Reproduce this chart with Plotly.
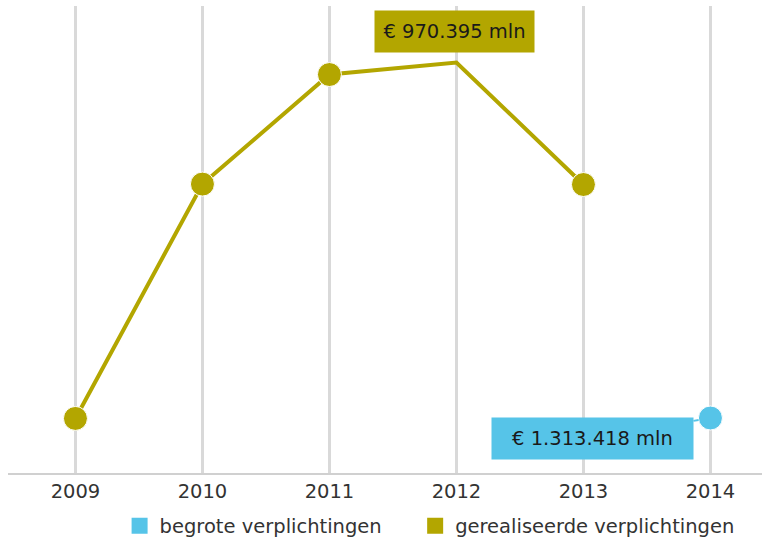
import plotly.graph_objects as go

# ---- data ----
years = ["2009", "2010", "2011", "2012", "2013", "2014"]
realised_years = ["2009", "2010", "2011", "2012", "2013"]
realised_values = [129000, 683000, 942000, 970395, 682000]
budget_years = ["2014"]
budget_values = [1313418]
realised_label = "€ 970.395 mln"
budget_label = "€ 1.313.418 mln"
realised_name = "gerealiseerde verplichtingen"
budget_name = "begrote verplichtingen"

# ---- style ----
OLIVE = "#b3a600"
BLUE = "#56c4e8"
FONT = "DejaVu Sans"
FS = 19.5

marker_sizes = [24, 24, 24, 0, 24]
marker_lw = [1, 1, 1, 0, 1]

fig = go.Figure()

fig.add_trace(go.Scatter(
    x=realised_years, y=realised_values, mode="lines+markers",
    line=dict(color=OLIVE, width=4),
    marker=dict(color=OLIVE, size=marker_sizes, opacity=1,
                line=dict(color="white", width=marker_lw)),
    showlegend=False, name=realised_name, yaxis="y", hoverinfo="skip"))
fig.add_trace(go.Scatter(
    x=budget_years, y=budget_values, mode="markers",
    marker=dict(color=BLUE, size=24, opacity=1, line=dict(color="white", width=1)),
    showlegend=False, name=budget_name, yaxis="y2", hoverinfo="skip"))

# legend entries (square swatches), each in its own legend box
fig.add_trace(go.Scatter(x=[None], y=[None], mode="markers", name=budget_name,
                         legend="legend",
                         marker=dict(symbol="square", color=BLUE, size=16)))
fig.add_trace(go.Scatter(x=[None], y=[None], mode="markers", name=realised_name,
                         legend="legend2",
                         marker=dict(symbol="square", color=OLIVE, size=16)))

# labels (category axes take the category index)
peak_idx = years.index(realised_years[3])
budget_idx = years.index(budget_years[0])
fig.add_annotation(x=peak_idx, y=realised_values[3], xref="x", yref="y",
                   text=realised_label, showarrow=False, xshift=-2, yshift=31,
                   width=159, height=41, borderpad=0, bgcolor=OLIVE,
                   font=dict(family=FONT, size=FS, color="#1a1a1a"))
fig.add_annotation(x=budget_idx, y=budget_values[0], xref="x", yref="y2",
                   text=budget_label, showarrow=True, arrowhead=0, arrowwidth=2,
                   arrowcolor=BLUE, axref="pixel", ayref="pixel", ax=-118, ay=20,
                   standoff=12, width=201, height=41, borderpad=0, bgcolor=BLUE,
                   font=dict(family=FONT, size=FS, color="#1a1a1a"))

legend_style = dict(orientation="h", xanchor="left",
                    yref="container", y=0.0295, yanchor="middle",
                    font=dict(family=FONT, size=FS, color="#333333"),
                    bgcolor="rgba(0,0,0,0)", itemclick=False)

fig.update_layout(
    width=762, height=542,
    margin=dict(l=8, r=0, t=6, b=69, autoexpand=False),
    paper_bgcolor="white", plot_bgcolor="white",
    font=dict(family=FONT, size=FS, color="#333333"),
    xaxis=dict(type="category", categoryorder="array", categoryarray=years,
               range=[-0.531, 5.406], showgrid=True, gridcolor="#d9d9d9", gridwidth=3,
               showline=True, linecolor="#d0d0d0", linewidth=2, ticks="",
               zeroline=False, fixedrange=True,
               tickfont=dict(family=FONT, size=FS, color="#333333")),
    yaxis=dict(visible=False, range=[0, 1104000], showgrid=False, zeroline=False,
               fixedrange=True),
    yaxis2=dict(visible=False, range=[0, 11152000], overlaying="y", showgrid=False,
                zeroline=False, fixedrange=True),
    legend=dict(x=0.148, **legend_style),
    legend2=dict(x=0.540, **legend_style),
    showlegend=True,
)

fig.write_html("out.html", config={"displayModeBar": False, "staticPlot": True},
               post_script="document.body.style.margin='0';document.body.style.overflow='hidden';")
